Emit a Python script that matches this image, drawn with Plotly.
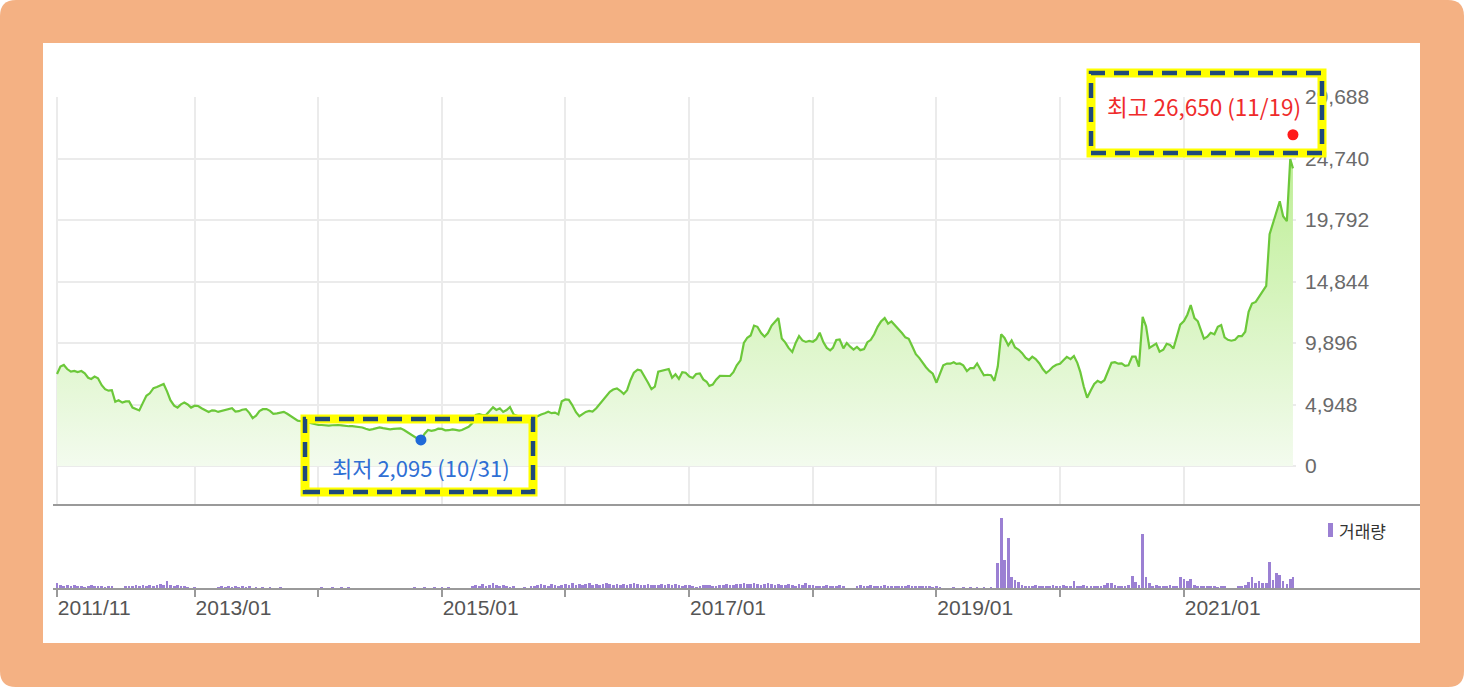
import pandas as pd
import plotly.graph_objects as go

# ---------------- data ----------------
# closing price, sampled on the 1st, 11th and 21st of each month
# (first point 2011-11-21, last point 2021-11-19)
first_day = "2011-11-21"
last_day = "2021-11-19"

close_prices = [
    # 2011 (Nov 21, Dec)
    7400, 8000, 8130, 7800,
    # 2012
    7600, 7650, 7560, 7640, 7460, 7100, 7000, 7190, 7060, 6500, 6180, 6060,
    6100, 5170, 5290, 5100, 5200, 5200, 4700, 4560, 4470, 5100, 5650, 5850,
    6260, 6350, 6480, 6600, 6000, 5300, 4860, 4700, 4960, 5100, 4950, 4700,
    # 2013
    4850, 4830, 4650, 4500, 4350, 4480, 4460, 4350, 4420, 4540, 4550, 4650,
    4380, 4410, 4530, 4580, 4280, 3850, 4050, 4420, 4570, 4580, 4440, 4200,
    4240, 4300, 4360, 4200, 4020, 3850, 3650, 3600, 3520, 3500, 3450, 3380,
    # 2014
    3300, 3300, 3270, 3250, 3280, 3300, 3300, 3270, 3230, 3200, 3210, 3180,
    3160, 3100, 3000, 2910, 2970, 3050, 3110, 3050, 2990, 2950, 2980, 3010,
    3030, 2900, 2720, 2530, 2350, 2200, 2150, 2600, 2900, 2830, 2880, 3000,
    # 2015
    2980, 2870, 2880, 2950, 2900, 2850, 2900, 3000, 3150, 3450, 4100, 4170,
    4100, 4100, 4400, 4720, 4510, 4640, 4350, 4500, 4750, 4150, 4050, 3950,
    3850, 3760, 3750, 3900, 4020, 4150, 4250, 4370, 4250, 4300, 4150, 5200,
    # 2016
    5350, 5320, 4900, 4330, 4000, 4200, 4350, 4430, 4380, 4650, 4970, 5300,
    5690, 5970, 6150, 6240, 6050, 5800, 6100, 6900, 7500, 7750, 7680, 7250,
    6700, 6180, 6380, 7590, 7640, 7740, 7800, 7100, 7380, 7000, 7550, 7500,
    # 2017
    7200, 7080, 7400, 7450, 6970, 6780, 6450, 6550, 6950, 7250, 7230, 7210,
    7240, 7550, 8100, 8500, 9900, 10320, 10500, 11300, 11200, 10700, 10400, 10700,
    11300, 11600, 11900, 10250, 9950, 9500, 9170, 9900, 10450, 10100, 9980, 10060,
    # 2018
    10000, 10200, 10730, 9950, 9500, 9300, 9500, 10140, 10180, 9470, 9900, 9600,
    9370, 9580, 9320, 9400, 9960, 10150, 10600, 11200, 11620, 11900, 11450, 11630,
    11320, 11000, 10700, 10350, 10230, 9650, 9000, 8700, 8280, 7950, 7650, 7420,
    # 2019
    6700, 7450, 8100, 8240, 8230, 8350, 8220, 8250, 8100, 7630, 7880, 7880,
    8250, 7760, 7300, 7340, 7300, 6850, 8000, 10600, 10300, 9700, 10100, 9540,
    9350, 9080, 8720, 8520, 8800, 8600, 8250, 7800, 7480, 7700, 7980, 8150,
    # 2020
    8220, 8500, 8780, 8600, 8850, 8300, 7550, 6400, 5500, 6100, 6600, 6850,
    6700, 6900, 7600, 8300, 8350, 8230, 8260, 8050, 8100, 8800, 8800, 8000,
    12000, 11250, 9500, 9700, 9850, 9200, 9350, 9830, 9740, 9450, 10400, 11370,
    # 2021 (to Nov 19)
    11660, 12170, 12950, 11900, 11640, 10800, 10250, 10400, 10720, 10600, 11200, 11340,
    10350, 10150, 10080, 10150, 10450, 10450, 10800, 12400, 13070, 13200, 13600, 13980,
    14500, 18650, 19500, 20530, 21300, 20100, 19700, 24700, 23950,
]

# trading volume (thousand shares), same sampling dates
volumes = [
    # 2011
    300, 200, 150, 200,
    # 2012
    150, 200, 150, 150, 100, 150, 200, 150, 150, 150, 100, 150,
    150, 0, 0, 0, 150, 150, 150, 200, 150, 200, 150, 200,
    150, 200, 250, 200, 400, 200, 150, 200, 150, 150, 100, 0,
    # 2013
    100, 0, 0, 0, 0, 0, 0, 100, 150, 100, 150, 100,
    150, 100, 150, 100, 150, 0, 100, 0, 100, 0, 100, 0,
    0, 100, 0, 0, 0, 0, 0, 0, 0, 0, 0, 0,
    # 2014
    0, 100, 0, 0, 100, 0, 0, 100, 0, 100, 0, 0,
    0, 0, 0, 0, 0, 0, 0, 0, 0, 0, 0, 0,
    0, 0, 0, 0, 100, 0, 0, 100, 0, 0, 100, 0,
    # 2015
    100, 0, 100, 0, 0, 0, 0, 0, 0, 150, 200, 150,
    250, 150, 200, 300, 200, 150, 200, 150, 100, 150, 0, 0,
    100, 0, 150, 150, 200, 250, 200, 150, 250, 200, 150, 200,
    # 2016
    250, 200, 300, 200, 250, 200, 250, 300, 200, 250, 200, 250,
    300, 250, 200, 250, 200, 250, 200, 250, 300, 250, 200, 200,
    250, 200, 200, 200, 250, 200, 250, 200, 250, 200, 150, 200,
    # 2017
    200, 150, 100, 150, 200, 200, 200, 150, 150, 200, 200, 250,
    200, 200, 250, 250, 300, 250, 250, 300, 250, 200, 250, 300,
    250, 200, 250, 200, 200, 250, 200, 150, 250, 200, 300, 200,
    # 2018
    200, 150, 150, 150, 200, 150, 150, 150, 200, 150, 0, 0,
    0, 150, 200, 150, 150, 200, 150, 150, 150, 200, 150, 150,
    150, 150, 150, 150, 200, 150, 150, 150, 150, 150, 150, 100,
    # 2019
    150, 100, 0, 0, 0, 100, 0, 0, 100, 0, 100, 0,
    100, 0, 100, 0, 100, 0, 1300, 3550, 1450, 2550, 600, 450,
    350, 200, 150, 150, 150, 200, 150, 150, 150, 150, 200, 150,
    # 2020
    150, 200, 150, 150, 400, 150, 150, 200, 150, 150, 150, 150,
    150, 200, 300, 300, 200, 150, 150, 150, 200, 650, 350, 200,
    2750, 600, 300, 150, 200, 150, 150, 150, 200, 150, 150, 600,
    # 2021
    500, 400, 500, 200, 150, 150, 150, 150, 150, 150, 100, 150,
    150, 0, 0, 0, 150, 150, 200, 350, 600, 300, 400, 300,
    300, 1350, 450, 800, 700, 400, 250, 500, 600,
]

low_date, low_price = "2014-10-31", 2095
high_date, high_price = "2021-11-19", 26650

price_ticks = [0, 4948, 9896, 14844, 19792, 24740, 29688]
tick_dates = ["2011-11-21", "2013-01-01", "2014-01-01", "2015-01-01", "2016-01-01",
              "2017-01-01", "2018-01-01", "2019-01-01", "2020-01-01", "2021-01-01"]
tick_labels = ["2011/11", "2013/01", "", "2015/01", "", "2017/01", "", "2019/01", "", "2021/01"]
volume_label = "거래량"

# ---------------- sampling dates ----------------
price_dates = [pd.Timestamp(first_day)]
for m in pd.period_range("2011-12", "2021-11", freq="M"):
    for d in (1, 11, 21):
        t = pd.Timestamp(year=m.year, month=m.month, day=d)
        if t < pd.Timestamp(last_day):
            price_dates.append(t)
price_dates.append(pd.Timestamp(last_day))
assert len(price_dates) == len(close_prices) == len(volumes)

# ---------------- geometry helpers ----------------
W, H = 1464, 687
L, R, T, B = 56, 168, 97, 98
PW, PH = W - L - R, H - T - B


def px(x):
    return (x - L) / PW


def py(y):
    return (H - B - y) / PH


def pp(x, y):
    return f"{px(x):.5f},{py(y):.5f}"


SPLIT = py(505)
x_range = ["2011-11-18", "2021-11-28"]

fig = go.Figure()

fig.add_trace(go.Scatter(
    x=price_dates, y=close_prices, mode="lines",
    line=dict(color="#6cc83a", width=2.2),
    fill="tozeroy",
    fillgradient=dict(type="vertical", start=0, stop=25000,
                      colorscale=[[0, "#f3fbee"], [1, "#bdee94"]]),
    xaxis="x", yaxis="y", hoverinfo="skip", showlegend=False,
))
fig.add_trace(go.Scatter(
    x=[high_date], y=[high_price], mode="markers",
    marker=dict(color="#ff1a1a", size=11), xaxis="x", yaxis="y",
    hoverinfo="skip", showlegend=False, cliponaxis=False,
))
fig.add_trace(go.Scatter(
    x=[low_date], y=[low_price], mode="markers",
    marker=dict(color="#1f6ad8", size=11), xaxis="x", yaxis="y",
    hoverinfo="skip", showlegend=False, cliponaxis=False,
))
fig.add_trace(go.Bar(
    x=price_dates, y=volumes, width=8 * 86400000,
    marker=dict(color="#9b80d3", line=dict(width=0)),
    xaxis="x2", yaxis="y2", hoverinfo="skip", showlegend=False,
))

grid = "#ebebeb"
tick_font = dict(family="Liberation Sans", size=21, color="#6a6a6a")

fig.update_layout(
    width=W, height=H,
    margin=dict(l=L, r=R, t=T, b=B),
    paper_bgcolor="white", plot_bgcolor="rgba(0,0,0,0)",
    font=dict(family="Liberation Sans"),
    bargap=0, barmode="overlay", hovermode=False,
    xaxis=dict(domain=[0, 1], range=x_range, type="date", anchor="y",
               tickvals=tick_dates, showticklabels=False, ticks="",
               showgrid=True, gridcolor=grid, gridwidth=1.5,
               zeroline=False, showline=False),
    yaxis=dict(domain=[SPLIT, 1], range=[-3138, 29688], anchor="x", side="right",
               tickvals=price_ticks, tickformat=",d", ticks="",
               showgrid=True, gridcolor=grid, gridwidth=1.5,
               zeroline=False, showline=False, tickfont=tick_font,
               ticklabelstandoff=8),
    xaxis2=dict(domain=[0, 1], range=x_range, type="date", anchor="y2",
                tickvals=tick_dates, ticktext=tick_labels,
                ticks="outside", ticklen=7, tickwidth=1.5, tickcolor="#9a9a9a",
                ticklabelposition="outside right",
                showgrid=False, zeroline=False, showline=False,
                tickfont=dict(family="Liberation Sans", size=21, color="#555555")),
    yaxis2=dict(domain=[0, SPLIT], range=[0, 4200], anchor="x2",
                showticklabels=False, showgrid=False, zeroline=False, ticks=""),
)

r = 16
frame_path = (
    f"M{pp(r, 0)} L{pp(W - r, 0)} Q{pp(W, 0)} {pp(W, r)} L{pp(W, H - r)} "
    f"Q{pp(W, H)} {pp(W - r, H)} L{pp(r, H)} Q{pp(0, H)} {pp(0, H - r)} "
    f"L{pp(0, r)} Q{pp(0, 0)} {pp(r, 0)} Z"
)
shapes = [
    dict(type="path", path=frame_path, xref="paper", yref="paper",
         fillcolor="#f4b183", line=dict(width=0), layer="below"),
    dict(type="rect", xref="paper", yref="paper", x0=px(43), x1=px(1420),
         y0=py(643), y1=py(43), fillcolor="white", line=dict(width=0), layer="below"),
    dict(type="line", xref="paper", yref="paper", x0=px(53), x1=px(1420),
         y0=py(505), y1=py(505), line=dict(color="#9a9a9a", width=2)),
    dict(type="line", xref="paper", yref="paper", x0=px(53), x1=px(1420),
         y0=py(589), y1=py(589), line=dict(color="#9a9a9a", width=2)),
    dict(type="rect", xref="paper", yref="paper", x0=px(1328), x1=px(1333),
         y0=py(537), y1=py(523), fillcolor="#9b80d3", line=dict(width=0)),
]
for (x0, y0, x1, y1) in [(1091, 73, 1322, 153), (305, 419, 533, 492)]:
    shapes.append(dict(type="rect", xref="paper", yref="paper",
                       x0=px(x0), x1=px(x1), y0=py(y1), y1=py(y0),
                       line=dict(color="#ffff00", width=9)))
    shapes.append(dict(type="rect", xref="paper", yref="paper",
                       x0=px(x0), x1=px(x1), y0=py(y1), y1=py(y0),
                       line=dict(color="#1f4a7a", width=4.5, dash="15px,9px")))
fig.update_layout(shapes=shapes)

kfont = "Noto Sans CJK KR"
hd = pd.Timestamp(high_date)
ld = pd.Timestamp(low_date)
fig.update_layout(annotations=[
    dict(x=high_date, y=high_price, xref="x", yref="y",
         text=f"최고 {high_price:,} ({hd.month:02d}/{hd.day:02d})",
         showarrow=False, xanchor="right", yanchor="middle",
         xshift=10, yshift=29,
         font=dict(family=kfont, size=22.5, color="#ef2b2b")),
    dict(x=low_date, y=low_price, xref="x", yref="y",
         text=f"최저 {low_price:,} ({ld.month:02d}/{ld.day:02d})",
         showarrow=False, xanchor="center", yanchor="middle",
         yshift=-27,
         font=dict(family=kfont, size=22, color="#2f6fd4")),
    dict(x=px(1337), y=py(530), xref="paper", yref="paper",
         text=volume_label, showarrow=False, xanchor="left", yanchor="middle",
         font=dict(family=kfont, size=17, color="#333333")),
])

fig.write_html("out.html", config={"displayModeBar": False},
               post_script="document.body.style.margin='0px';")
